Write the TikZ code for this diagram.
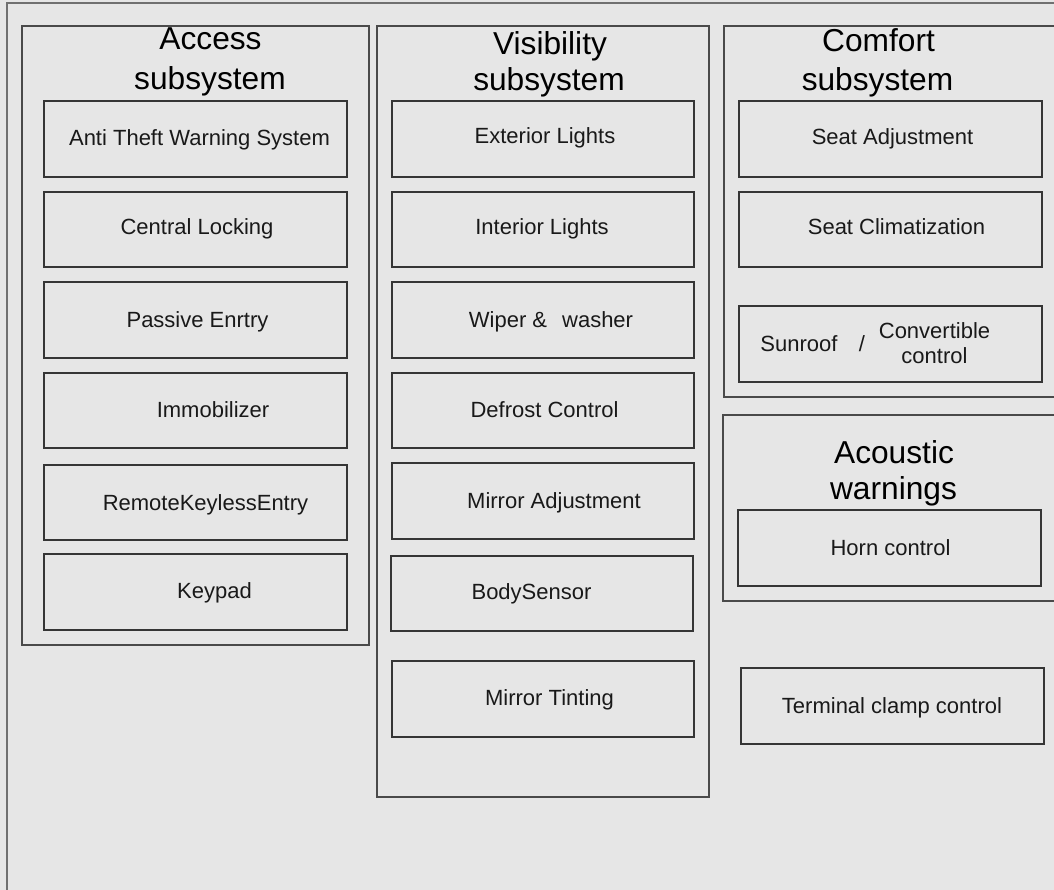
\documentclass[tikz,border=0pt]{standalone}
\usepackage{fontspec}
\setmainfont{Liberation Sans}
\usetikzlibrary{fit}
\definecolor{bg}{HTML}{E6E6E6}
\definecolor{frameline}{HTML}{707070}
\definecolor{boxline}{HTML}{353535}
\definecolor{contline}{HTML}{4A4A4A}
\tikzset{
  box/.style={draw=boxline, line width=1.3pt, inner sep=0pt},
  cont/.style={draw=contline, line width=1.3pt, inner sep=0pt},
  txt/.style={inner sep=0pt, anchor=base, text=black!90, font=\fontsize{22}{25}\selectfont},
  ttl/.style={inner sep=0pt, anchor=base, text=black, font=\fontsize{31.7}{36}\selectfont}
}
\begin{document}
\begin{tikzpicture}[x=1pt, y=-1pt]
\useasboundingbox (0,0) rectangle (1054,890);
\clip (0,0) rectangle (1054,890);
\fill[bg] (0,0) rectangle (1054,890);
% outer frame
\draw[frameline, line width=2pt] (7,3) rectangle (1080,900);

% containers
\node[cont, fit={(22,26) (369,645)}] (acc) {};
\node[cont, fit={(377,26) (709,797)}] (vis) {};
\node[cont, fit={(724,26) (1070,397)}] (com) {};
\node[cont, fit={(723,415) (1070,601)}] (aco) {};

% titles
\node[ttl] (accT1) at (210.5,50) {Access};
\node[ttl] (accT2) at (210,90) {subsystem};
\node[ttl] (visT1) at (550,55) {Visibility};
\node[ttl] (visT2) at (549,91) {subsystem};
\node[ttl] (comT1) at (878.5,52) {Comfort};
\node[ttl] (comT2) at (877.5,91) {subsystem};
\node[ttl] (acoT1) at (894,463) {Acoustic};
\node[ttl] (acoT2) at (893.5,499) {warnings};

% access boxes
\node[box, fit={(44,101) (347,177)}] (a1) {};
\node[box, fit={(44,192) (347,267)}] (a2) {};
\node[box, fit={(44,282) (347,358)}] (a3) {};
\node[box, fit={(44,373) (347,448)}] (a4) {};
\node[box, fit={(44,465) (347,540)}] (a5) {};
\node[box, fit={(44,554) (347,630)}] (a6) {};
\node[txt] (a1t) at (199.5,146) {Anti Theft Warning System};
\node[txt] (a2t) at (197,235) {Central Locking};
\node[txt] (a3t) at (197.5,327) {Passive Enrtry};
\node[txt] (a4t) at (213,417) {Immobilizer};
\node[txt] (a5t) at (205.5,510) {RemoteKeylessEntry};
\node[txt] (a6t) at (214.5,598) {Keypad};

% visibility boxes
\node[box, fit={(392,101) (694,177)}] (v1) {};
\node[box, fit={(392,192) (694,267)}] (v2) {};
\node[box, fit={(392,282) (694,358)}] (v3) {};
\node[box, fit={(392,373) (694,448)}] (v4) {};
\node[box, fit={(392,463) (694,539)}] (v5) {};
\node[box, fit={(391,556) (693,631)}] (v6) {};
\node[box, fit={(392,661) (694,737)}] (v7) {};
\node[txt] (v1t) at (545,144) {Exterior Lights};
\node[txt] (v2t) at (542,235) {Interior Lights};
\node[txt] (v3t) at (551,327) {Wiper \&\hspace{15pt}washer};
\node[txt] (v4t) at (544.5,417) {Defrost Control};
\node[txt] (v5t) at (554,508) {Mirror Adjustment};
\node[txt] (v6t) at (531.5,599) {BodySensor};
\node[txt] (v7t) at (549.5,705) {Mirror Tinting};

% comfort boxes
\node[box, fit={(739,101) (1042,177)}] (c1) {};
\node[box, fit={(739,192) (1042,267)}] (c2) {};
\node[box, fit={(739,306) (1042,382)}] (c3) {};
\node[txt] (c1t) at (892.5,145) {Seat Adjustment};
\node[txt] (c2t) at (896.5,235) {Seat Climatization};
\node[txt] (c3t1) at (799,351) {Sunroof};
\node[txt] (c3t2) at (862,351) {/};
\node[txt] (c3t3) at (934.5,338) {Convertible};
\node[txt] (c3t4) at (934.5,363) {control};

% acoustic
\node[box, fit={(738,510) (1041,586)}] (h1) {};
\node[txt] (h1t) at (890.5,555) {Horn control};

% terminal clamp
\node[box, fit={(741,668) (1044,744)}] (t1) {};
\node[txt] (t1t) at (892,713) {Terminal clamp control};
\end{tikzpicture}
\end{document}
